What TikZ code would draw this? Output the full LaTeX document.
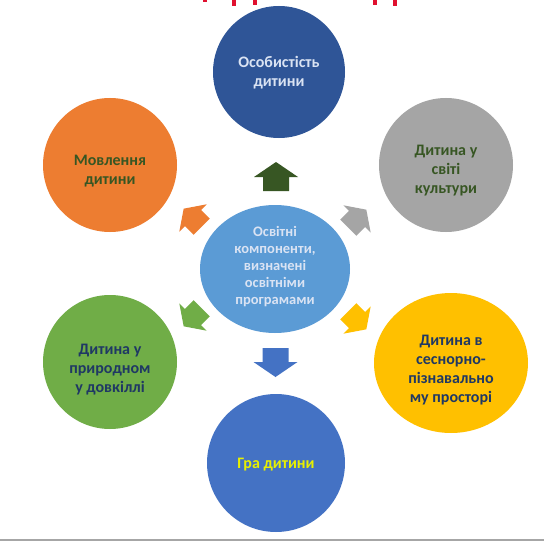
\documentclass[tikz,border=0pt]{standalone}
\usepackage{fontspec}
\setmainfont{Carlito}
\definecolor{cdblue}{HTML}{2F5597}
\definecolor{cgray}{HTML}{A5A5A5}
\definecolor{corange}{HTML}{ED7D31}
\definecolor{clblue}{HTML}{5B9BD5}
\definecolor{cgreen}{HTML}{70AD47}
\definecolor{cyellow}{HTML}{FFC000}
\definecolor{cblue}{HTML}{4472C4}
\definecolor{cdgreen}{HTML}{375623}
\definecolor{cnavy}{HTML}{1F3864}
\definecolor{ctxtlight}{HTML}{DAE3F3}
\definecolor{ctxtyellow}{HTML}{E8F000}
\definecolor{cred}{HTML}{E0102F}
\tikzset{
  btext/.style={align=center, inner sep=0pt,
    font=\fontsize{16}{19}\selectfont\bfseries},
  barrow/.pic={\fill[pic actions] (-13,14) -- (-13,0) -- (-22,0) -- (0,-15) -- (22,0) -- (13,0) -- (13,14) -- cycle;}
}
\begin{document}
\begin{tikzpicture}[x=1pt,y=-1pt]
\useasboundingbox (0,0) rectangle (544,543);
\fill[white] (0,0) rectangle (544,543);
% red fragments of cut-off title
\foreach \xa/\ha in {205/2,234/6,255/5,375/5,395/6}
  \fill[cred] (\xa-1.8,0) rectangle (\xa+1.8,\ha);
% circles
\fill[cdblue] (279,72) circle (66) coordinate (top);
\fill[cgray] (446,165) circle (67) coordinate (cult);
\fill[corange] (110,165) circle (67) coordinate (speech);
\fill[cgreen] (110,362) circle (67) coordinate (nature);
\fill[cyellow] (451,363) ellipse (77 and 70) coordinate (sens);
\fill[cblue] (276,463) circle (69) coordinate (play);
\fill[clblue] (275,269) ellipse (75 and 64) coordinate (center);
% texts
\node[btext, text=ctxtlight] (ttop) at (279,73) {Особистість\\дитини};
\node[btext, text=cdgreen] (tcult) at (446,171) {Дитина у\\світі\\культури};
\node[btext, text=cdgreen] (tspeech) at (110,171) {Мовлення\\дитини};
\node[btext, text=cnavy] (tnature) at (110,370) {Дитина у\\природном\\у довкіллі};
\node[btext, text=cnavy] (tsens) at (451,370) {Дитина в\\сеснорно-\\пізнавально\\му просторі};
\node[btext, text=ctxtyellow] (tplay) at (276,465) {Гра дитини};
\node[btext, text=ctxtlight, font=\fontsize{14.5}{17}\selectfont\bfseries] (tcenter) at (275,267) {Освітні\\компоненти,\\визначені\\освітніми\\програмами};
% block arrows
\pic[fill=cdgreen] at (276,177) {barrow};
\pic[fill=cblue, rotate=180] at (275.5,362) {barrow};
\pic[fill=corange, rotate=45, scale=0.88] at (193,218) {barrow};
\pic[fill=cgray, rotate=-45, scale=0.88] at (357,219) {barrow};
\pic[fill=cgreen, rotate=135, scale=0.88] at (193,317) {barrow};
\pic[fill=cyellow, rotate=-135, scale=0.88] at (357,320) {barrow};
% bottom rule
\draw[line width=1.5pt, color=black!35] (0,540) -- (544,540);
\end{tikzpicture}
\end{document}
